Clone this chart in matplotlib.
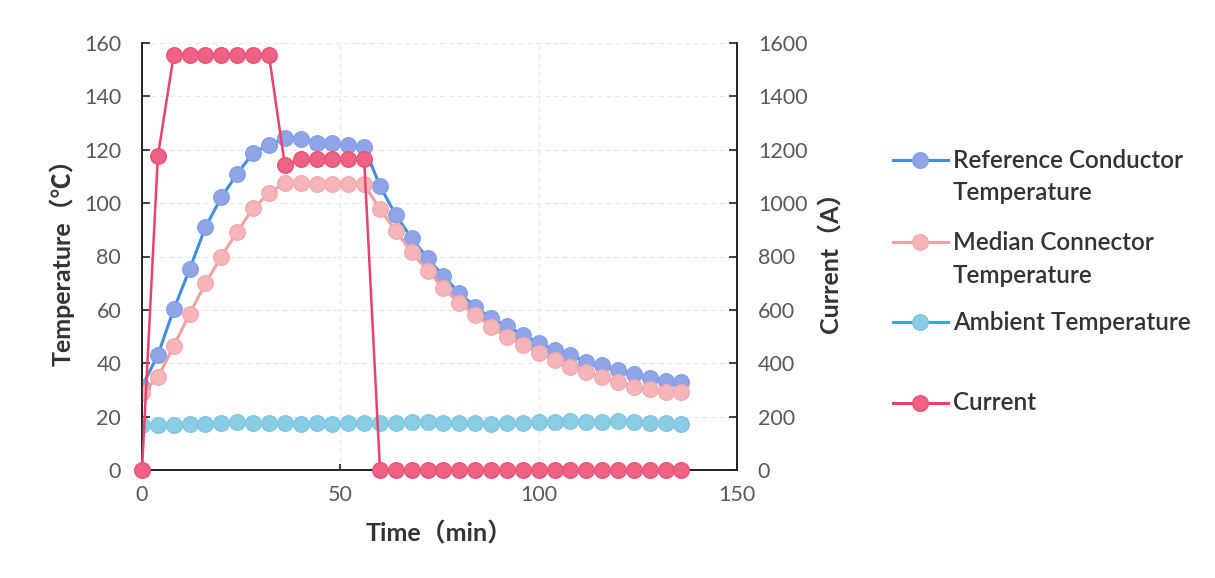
import matplotlib
matplotlib.use("Agg")
import matplotlib.pyplot as plt
from matplotlib.lines import Line2D

plt.rcParams['font.family'] = ['Lato', 'Noto Sans CJK SC', 'DejaVu Sans']

time_min = [0, 4, 8, 12, 16, 20, 24, 28, 32, 36, 40, 44, 48, 52, 56, 60, 64, 68,
            72, 76, 80, 84, 88, 92, 96, 100, 104, 108, 112, 116, 120, 124, 128, 132, 136]

ref_conductor = [31.2, 43.1, 60.2, 75.2, 91.0, 102.2, 111.0, 118.8, 121.8, 124.4, 124.2, 122.6,
                 122.4, 121.8, 121.1, 106.4, 95.5, 86.8, 79.3, 72.6, 66.3, 61.2, 56.8, 54.0,
                 50.6, 47.7, 45.0, 43.1, 40.6, 39.3, 37.5, 36.0, 34.4, 33.5, 33.1]

median_connector = [28.7, 34.7, 46.5, 58.4, 70.0, 79.9, 89.3, 98.0, 103.7, 107.6, 107.4, 107.2,
                    107.2, 107.1, 107.0, 97.7, 89.5, 81.6, 74.6, 68.1, 62.5, 58.1, 53.7, 49.9,
                    46.8, 44.0, 41.2, 38.7, 36.8, 35.0, 33.1, 31.2, 30.2, 29.3, 29.3]

ambient = [16.8, 17.0, 17.0, 17.1, 17.3, 17.5, 17.8, 17.6, 17.7, 17.6, 17.4, 17.5, 17.4, 17.5,
           17.6, 17.7, 17.6, 17.8, 17.9, 17.7, 17.7, 17.6, 17.4, 17.5, 17.6, 17.8, 18.0, 18.2,
           18.1, 17.9, 18.3, 17.8, 17.6, 17.5, 17.4]

current = [0, 1176, 1555, 1555, 1555, 1555, 1555, 1555, 1555, 1143, 1164, 1164, 1164, 1164, 1164,
           0, 0, 0, 0, 0, 0, 0, 0, 0, 0, 0, 0, 0, 0, 0, 0, 0, 0, 0, 0]

temp_ticks = [0, 20, 40, 60, 80, 100, 120, 140, 160]
current_ticks = [0, 200, 400, 600, 800, 1000, 1200, 1400, 1600]
time_ticks = [0, 50, 100, 150]

labels = ["Reference Conductor\nTemperature", "Median Connector\nTemperature",
          "Ambient Temperature", "Current"]

styles = [
    dict(color='#3f8fde', mfc='#8fa5e8', mec='#84a0e6'),
    dict(color='#f2a0a0', mfc='#f6b5b8', mec='#f3aaae'),
    dict(color='#3aa7d8', mfc='#8ccde6', mec='#7fc4e2'),
    dict(color='#e8436c', mfc='#ee6385', mec='#ea5176'),
]

W, H = 1215, 578
fig = plt.figure(figsize=(W / 100, H / 100), dpi=100)
ax = fig.add_axes([142 / W, 1 - 470 / H, (737 - 142) / W, (470 - 43) / H])
ax2 = ax.twinx()

ms = 11.2
ax.plot(time_min, ref_conductor, '-o', lw=2.2, ms=ms, mew=1.0, zorder=3, **styles[0])
ax.plot(time_min, median_connector, '-o', lw=2.2, ms=ms, mew=1.0, zorder=4, **styles[1])
ax.plot(time_min, ambient, '-o', lw=2.2, ms=ms, mew=1.0, zorder=3, **styles[2])
ax2.plot(time_min, current, '-o', lw=1.8, ms=ms, mew=1.0, zorder=3, clip_on=False, **styles[3])

ax.set_xlim(0, 150)
ax.set_ylim(0, 160)
ax2.set_ylim(0, 1600)
ax.set_xticks(time_ticks)
ax.set_yticks(temp_ticks)
ax2.set_yticks(current_ticks)

grid_kw = dict(color='#e6e8ec', lw=0.9, ls=(0, (4, 3)))
ax.grid(True, axis='both', **grid_kw)
ax.set_axisbelow(True)

for a in (ax, ax2):
    a.spines['top'].set_visible(False)
    for s in ('left', 'right', 'bottom'):
        a.spines[s].set_color('#222222')
        a.spines[s].set_linewidth(1.2)

ax.tick_params(axis='y', direction='in', length=6, width=1.2, color='#222222',
               labelsize=15.5, labelcolor='#595959', pad=15)
ax.tick_params(axis='x', direction='in', length=4, width=1.2, color='#222222',
               labelsize=15.5, labelcolor='#595959', pad=11)
ax2.tick_params(axis='y', direction='in', length=6, width=1.2, color='#222222',
                labelsize=15.5, labelcolor='#595959', pad=15)

lab_kw = dict(fontsize=18, fontweight='bold', color='#333333')
ax.set_ylabel("Temperature（℃）", labelpad=7, **lab_kw)
ax2.set_ylabel("Current（A）", labelpad=8, **lab_kw)
ax.set_xlabel("Time（min）", labelpad=12, **lab_kw)

# manual legend (figure pixel coordinates)
leg_rows = [160, 242, 322, 403]
for (lab, st, yr) in zip(labels, styles, leg_rows):
    yf = 1 - yr / H
    fig.add_artist(Line2D([893 / W, 948 / W], [yf, yf], color=st['color'], lw=2.2,
                          transform=fig.transFigure))
    fig.add_artist(Line2D([920 / W], [yf], marker='o', ms=ms, mfc=st['mfc'], mec=st['mec'],
                          mew=1.0, transform=fig.transFigure))
    for i, line in enumerate(lab.split("\n")):
        fig.text(953 / W, 1 - (yr + i * 33) / H, line, fontsize=17.5, fontweight='semibold',
                 color='#333333', va='center', ha='left')

fig.savefig("out.png", dpi=100, facecolor='white')
